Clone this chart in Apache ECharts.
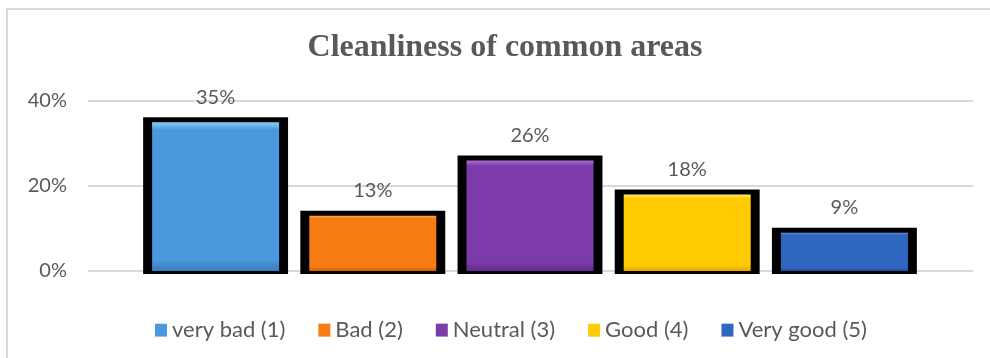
<!DOCTYPE html>
<html>
<head>
<meta charset="utf-8">
<style>
  html, body { margin: 0; padding: 0; background: #ffffff; }
  #chart { width: 990px; height: 358px; }
</style>
<script src="https://cdn.jsdelivr.net/npm/echarts@6/dist/echarts.min.js"></script>
</head>
<body>
<div id="chart"></div>
<script>
// Survey answers: share of respondents per rating
const categories = ['very bad (1)', 'Bad (2)', 'Neutral (3)', 'Good (4)', 'Very good (5)'];
const shares = [35, 13, 26, 18, 9];
const yTicks = [0, 20, 40];
const chartTitle = 'Cleanliness of common areas';

// Bevel-like fills: highlight, body, shade
const palette = [
  ['#86d0f6', '#4c98de', '#3a7cc0'],
  ['#ffa848', '#f77c14', '#cf5e08'],
  ['#ad6ed6', '#7c3ba9', '#5f2a8a'],
  ['#fff060', '#ffcb00', '#eaa800'],
  ['#6a9ce6', '#2f66c0', '#1d4a96']
];

function bevel(c) {
  return new echarts.graphic.LinearGradient(0, 0, 0, 1, [
    { offset: 0, color: c[0] },
    { offset: 0.05, color: c[1] },
    { offset: 0.92, color: c[1] },
    { offset: 1, color: c[2] }
  ]);
}

const textColor = '#595959';
const sansFont = 'Lato';

const chart = echarts.init(document.getElementById('chart'), null, { renderer: 'canvas' });

const yMin = yTicks[0];
const yMax = yTicks[yTicks.length - 1];
const yStep = yTicks[1] - yTicks[0];

function hiddenCat(gridIndex) {
  return {
    type: 'category', gridIndex: gridIndex, data: categories,
    axisLine: { show: false }, axisTick: { show: false }, axisLabel: { show: false },
    splitLine: { show: false }
  };
}
function hiddenVal(gridIndex) {
  return {
    type: 'value', gridIndex: gridIndex, min: yMin, max: yMax, interval: yStep,
    axisLine: { show: false }, axisTick: { show: false }, axisLabel: { show: false },
    splitLine: { show: false }
  };
}

const ratingSeries = categories.map(function (name, i) {
  return {
    name: name,
    type: 'bar',
    xAxisIndex: 1,
    yAxisIndex: 1,
    stack: 'rating',
    barWidth: 127,
    z: 3,
    itemStyle: { color: bevel(palette[i]) },
    label: {
      show: true,
      position: 'top',
      distance: 15,
      formatter: '{c}%',
      color: textColor,
      fontFamily: sansFont,
      fontSize: 20
    },
    data: shares.map(function (v, j) { return j === i ? v : '-'; })
  };
});

// Thick black frame behind each bar, sized from the axis scale
const frameSeries = {
  name: 'frame',
  type: 'custom',
  xAxisIndex: 1,
  yAxisIndex: 1,
  z: 2,
  silent: true,
  renderItem: function (params, api) {
    const top = api.coord([api.value(0), api.value(1)]);
    const base = api.coord([api.value(0), 0]);
    const band = api.size([1, 0])[0];
    const w = band * 0.922;
    return {
      type: 'rect',
      shape: { x: top[0] - w / 2, y: top[1] - 5, width: w, height: base[1] - top[1] + 8 },
      style: { fill: '#000000' }
    };
  },
  encode: { x: 0, y: 1 },
  data: shares.map(function (v, i) { return [i, v]; })
};

chart.setOption({
  animation: false,
  backgroundColor: '#ffffff',
  graphic: [
    {
      type: 'rect',
      shape: { x: 7, y: 9, width: 1000, height: 370 },
      style: { fill: 'none', stroke: '#d9d9d9', lineWidth: 2 },
      silent: true, z: 0
    },
    {
      type: 'text',
      style: {
        x: 505, y: 48, text: chartTitle,
        align: 'center', verticalAlign: 'middle',
        font: 'bold 32px "Liberation Serif", "Times New Roman", serif',
        fill: textColor
      },
      z: 10
    }
  ],
  grid: [
    { left: 88, right: 17, top: 101, bottom: 87 },
    { left: 137, right: 67, top: 101, bottom: 87 }
  ],
  xAxis: [hiddenCat(0), hiddenCat(1)],
  yAxis: [
    {
      type: 'value', gridIndex: 0, min: yMin, max: yMax, interval: yStep,
      axisLine: { show: false }, axisTick: { show: false },
      axisLabel: {
        formatter: '{value}%', color: textColor, fontFamily: sansFont,
        fontSize: 20, margin: 21
      },
      splitLine: { lineStyle: { color: '#d9d9d9', width: 2 } }
    },
    hiddenVal(1)
  ],
  legend: {
    data: categories,
    left: 150,
    top: 314,
    icon: 'rect',
    itemWidth: 12,
    itemHeight: 13,
    itemGap: 33,
    textStyle: { color: textColor, fontFamily: sansFont, fontSize: 22, padding: [0, 0, 0, 0] }
  },
  series: [frameSeries].concat(ratingSeries)
});
</script>
</body>
</html>
